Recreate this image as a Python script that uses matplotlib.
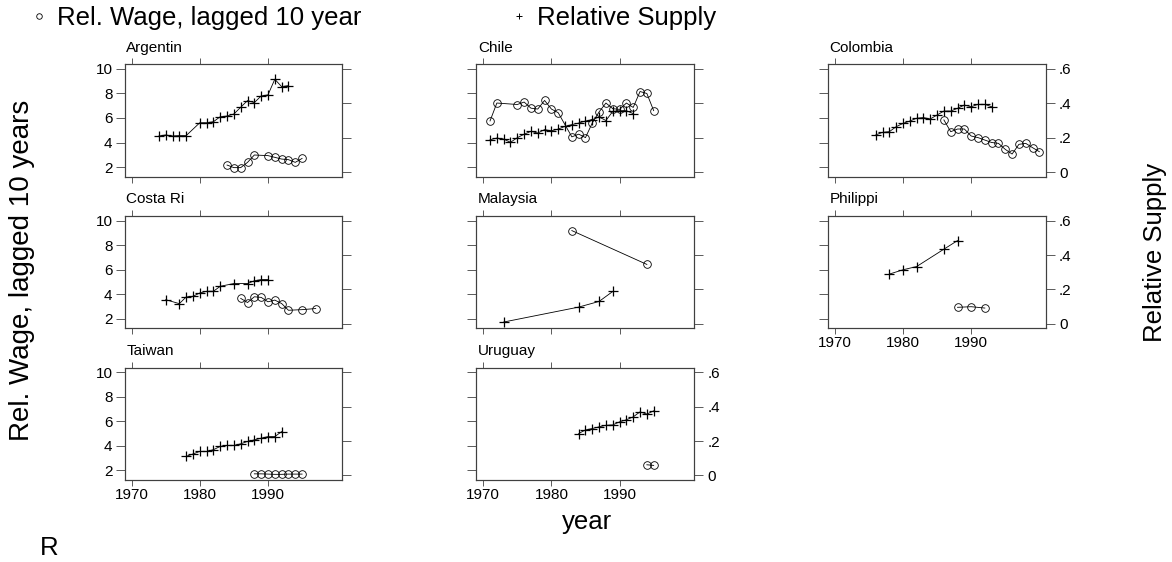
import matplotlib

matplotlib.use("Agg")
import matplotlib.pyplot as plt
from matplotlib.lines import Line2D

plt.rcParams["font.family"] = ["Liberation Sans", "DejaVu Sans"]

# panel titles (truncated as in the source graph)
TITLES = ["Argentin", "Chile", "Colombia", "Costa Ri", "Malaysia", "Philippi", "Taiwan", "Uruguay"]

X_TICKS = [1970, 1980, 1990]
WAGE_TICKS = [2, 4, 6, 8, 10]
SUPPLY_TICKS = [0, 0.2, 0.4, 0.6]
SUPPLY_TICK_LABELS = ["0", ".2", ".4", ".6"]

# rel. wage (left axis, circles) and relative supply (right axis, plus signs)
ARG_WAGE_YEARS = [1984, 1985, 1986, 1987, 1988, 1990, 1991, 1992, 1993, 1994, 1995]
ARG_WAGE = [2.16, 1.95, 1.95, 2.38, 2.98, 2.93, 2.79, 2.65, 2.6, 2.38, 2.7]
ARG_SUPPLY_YEARS = [1974, 1975, 1976, 1977, 1978, 1980, 1981, 1982, 1983, 1984, 1985, 1986,
                    1987, 1988, 1989, 1990, 1991, 1992, 1993]
ARG_SUPPLY = [0.21, 0.216, 0.21, 0.212, 0.212, 0.287, 0.287, 0.293, 0.322, 0.326, 0.338, 0.377,
              0.416, 0.404, 0.443, 0.449, 0.54, 0.497, 0.503]

CHL_WAGE_YEARS = [1971, 1972, 1975, 1976, 1977, 1978, 1979, 1980, 1981, 1983, 1984, 1985, 1986,
                  1987, 1988, 1989, 1990, 1991, 1992, 1993, 1994, 1995]
CHL_WAGE = [5.76, 7.22, 7.1, 7.3, 6.8, 6.73, 7.43, 6.73, 6.43, 4.46, 4.68, 4.4, 5.6,
            6.5, 7.22, 6.76, 6.7, 7.22, 6.86, 8.16, 8.0, 6.6]
CHL_SUPPLY_YEARS = list(range(1971, 1993))
CHL_SUPPLY = [0.188, 0.198, 0.192, 0.173, 0.2, 0.22, 0.237, 0.227, 0.247, 0.24, 0.25, 0.266,
              0.276, 0.285, 0.297, 0.305, 0.32, 0.3, 0.353, 0.357, 0.357, 0.34]

COL_WAGE_YEARS = list(range(1986, 2001))
COL_WAGE = [5.84, 4.88, 5.1, 5.1, 4.53, 4.4, 4.2, 4.0, 3.93, 3.44, 3.06, 3.85, 3.93, 3.58, 3.25]
COL_SUPPLY_YEARS = list(range(1976, 1994))
COL_SUPPLY = [0.216, 0.231, 0.235, 0.264, 0.283, 0.297, 0.313, 0.317, 0.309, 0.332, 0.355,
              0.355, 0.371, 0.39, 0.38, 0.394, 0.394, 0.38]

CRI_WAGE_YEARS = [1986, 1987, 1988, 1989, 1990, 1991, 1992, 1993, 1995, 1997]
CRI_WAGE = [3.66, 3.32, 3.79, 3.74, 3.38, 3.52, 3.24, 2.69, 2.74, 2.83]
CRI_SUPPLY_YEARS = [1975, 1977, 1978, 1979, 1980, 1981, 1982, 1983, 1985, 1987, 1988, 1989, 1990]
CRI_SUPPLY = [0.14, 0.117, 0.156, 0.16, 0.179, 0.189, 0.189, 0.218, 0.234, 0.234, 0.25, 0.257, 0.257]

MYS_WAGE_YEARS = [1983, 1994]
MYS_WAGE = [9.19, 6.43]
MYS_SUPPLY_YEARS = [1973, 1984, 1987, 1989]
MYS_SUPPLY = [0.01, 0.097, 0.13, 0.188]

PHL_WAGE_YEARS = [1988, 1990, 1992]
PHL_WAGE = [2.93, 2.98, 2.87]
PHL_SUPPLY_YEARS = [1978, 1980, 1982, 1986, 1988]
PHL_SUPPLY = [0.289, 0.314, 0.333, 0.434, 0.484]

TWN_WAGE_YEARS = list(range(1988, 1996))
TWN_WAGE = [1.72, 1.72, 1.7, 1.68, 1.68, 1.7, 1.7, 1.7]
TWN_SUPPLY_YEARS = list(range(1978, 1993))
TWN_SUPPLY = [0.111, 0.125, 0.14, 0.14, 0.15, 0.169, 0.175, 0.175, 0.184, 0.198, 0.207, 0.217,
              0.226, 0.226, 0.255]

URY_WAGE_YEARS = [1994, 1995]
URY_WAGE = [2.46, 2.41]
URY_SUPPLY_YEARS = list(range(1984, 1996))
URY_SUPPLY = [0.244, 0.265, 0.273, 0.283, 0.292, 0.294, 0.312, 0.324, 0.341, 0.37, 0.357, 0.376]

PANELS = [
    (ARG_WAGE_YEARS, ARG_WAGE, ARG_SUPPLY_YEARS, ARG_SUPPLY),
    (CHL_WAGE_YEARS, CHL_WAGE, CHL_SUPPLY_YEARS, CHL_SUPPLY),
    (COL_WAGE_YEARS, COL_WAGE, COL_SUPPLY_YEARS, COL_SUPPLY),
    (CRI_WAGE_YEARS, CRI_WAGE, CRI_SUPPLY_YEARS, CRI_SUPPLY),
    (MYS_WAGE_YEARS, MYS_WAGE, MYS_SUPPLY_YEARS, MYS_SUPPLY),
    (PHL_WAGE_YEARS, PHL_WAGE, PHL_SUPPLY_YEARS, PHL_SUPPLY),
    (TWN_WAGE_YEARS, TWN_WAGE, TWN_SUPPLY_YEARS, TWN_SUPPLY),
    (URY_WAGE_YEARS, URY_WAGE, URY_SUPPLY_YEARS, URY_SUPPLY),
]

FRAME = "#404040"
W, H = 1172, 562
COL_LEFT = [124.8, 476.4, 828.0]
ROW_TOP = [64.3, 216.0, 367.7]
PANEL_W, PANEL_H = 217.5, 112.4
TICK_FS = 11
BIG_FS = 18.5


def draw_panel(fig, idx: int) -> None:
    row, col = divmod(idx, 3)
    rect = [COL_LEFT[col] / W, 1 - (ROW_TOP[row] + PANEL_H) / H, PANEL_W / W, PANEL_H / H]
    ax = fig.add_axes(rect)
    ax2 = ax.twinx()
    wage_x, wage_y, supply_x, supply_y = PANELS[idx]

    ax.plot(wage_x, wage_y, color="black", lw=0.6, marker="o", ms=5.5, mfc="none", mec="black", mew=0.6)
    ax2.plot(supply_x, supply_y, color="black", lw=0.6, marker="+", ms=7.5, mew=0.9)

    ax.set_xlim(1969.0, 2000.9)
    ax.set_ylim(1.21, 10.38)
    ax2.set_ylim(-0.027, 0.627)
    ax.set_xticks(X_TICKS)
    ax.set_yticks(WAGE_TICKS)
    ax2.set_yticks(SUPPLY_TICKS)
    ax2.set_yticklabels(SUPPLY_TICK_LABELS)

    last_in_col = idx + 3 >= len(PANELS)
    last_in_row = col == 2 or idx == len(PANELS) - 1
    ax.tick_params(axis="x", top=True, direction="out", length=4.3, width=0.6, color=FRAME,
                   labelsize=TICK_FS, pad=1.5, labelbottom=last_in_col)
    ax.tick_params(axis="y", direction="out", length=6.8, width=0.6, color=FRAME,
                   labelsize=TICK_FS, pad=2, labelleft=(col == 0))
    ax2.tick_params(axis="y", direction="out", length=6.8, width=0.6, color=FRAME,
                    labelsize=TICK_FS, pad=3, labelright=last_in_row)
    for a in (ax, ax2):
        for spine in a.spines.values():
            spine.set_color(FRAME)
            spine.set_linewidth(0.8)

    ax.annotate(TITLES[idx], xy=(0, 1), xycoords="axes fraction", xytext=(1, 7),
                textcoords="offset points", ha="left", va="bottom", fontsize=TICK_FS)


def add_key(fig, handle: Line2D, label: str, x_px: float) -> None:
    fig.legend([handle], [label], loc="center left", bbox_to_anchor=(x_px / W, 1 - 18 / H),
               frameon=False, fontsize=BIG_FS, handlelength=0.5, handletextpad=0.45,
               borderaxespad=0, borderpad=0)


def main() -> None:
    fig = plt.figure(figsize=(W / 100, H / 100), dpi=100)
    for idx in range(len(PANELS)):
        draw_panel(fig, idx)

    add_key(fig, Line2D([], [], ls="none", marker="o", ms=4, mfc="none", mec="black", mew=0.6),
            "Rel. Wage, lagged 10 year", 33)
    add_key(fig, Line2D([], [], ls="none", marker="+", ms=5, color="black", mew=0.7),
            "Relative Supply", 513)

    fig.text(22 / W, 1 - 270 / H, "Rel. Wage, lagged 10 years", rotation=90, ha="center",
             va="center", fontsize=BIG_FS + 1.5)
    fig.text(1155 / W, 1 - 252 / H, "Relative Supply", rotation=90, ha="center", va="center",
             fontsize=BIG_FS)
    fig.text(587 / W, 1 - 522 / H, "year", ha="center", va="center", fontsize=BIG_FS)
    fig.text(40 / W, 1 - 548 / H, "R", ha="left", va="center", fontsize=BIG_FS)

    fig.savefig("out.png", dpi=100)
    plt.close(fig)


if __name__ == "__main__":
    main()
